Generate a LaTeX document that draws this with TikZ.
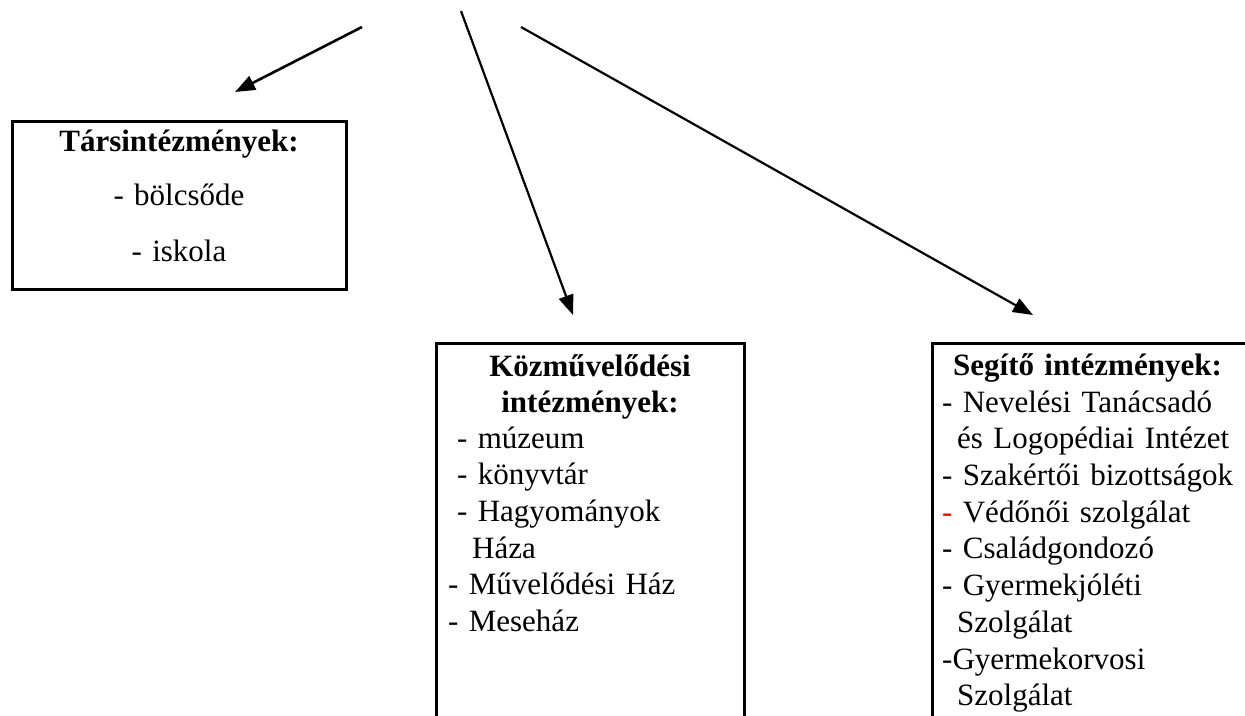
\documentclass[tikz,border=0pt]{standalone}
\usepackage{fontspec}
\setmainfont{Liberation Serif}
\usetikzlibrary{positioning,arrows.meta}
\tikzset{my frame/.style={draw,line width=3pt,anchor=north west,inner sep=0pt,outer sep=0pt},
my text/.style={inner sep=0pt,text width=#1,font=\fontsize{31}{36.7}\selectfont\strut},
my arrow/.style={-{Triangle[length=20pt,width=15pt]},line width=#1},
my arrow/.default=2.2pt}

\begin{document}
\begin{tikzpicture}[x=1pt,y=-1pt]
\useasboundingbox (0,0) rectangle (1245,715);
\clip (0,0) rectangle (1245,715);
\node[my frame,minimum width=334pt,minimum height=168pt] (tars) at (12,121) {};
\node[my text=334pt,align=center,below=5pt of tars.north] (tarslist) {\textbf{Társintézmények:}\\[16.6pt] - bölcsőde\\[20pt] - iskola};
\node[my frame,minimum width=308pt,minimum height=420pt] (kozm) at (436,343) {};
\node[my text=308pt,align=center,below=7.3pt of kozm.north] (kozmtitle) {\textbf{Közművelődési}\\ \textbf{intézmények:}};
\node[my text=290pt,align=left,below right=79.3pt and 12pt of kozm.north west] (kozmlist) {\hspace*{9pt}- múzeum\\ \hspace*{9pt}- könyvtár\\ \hspace*{9pt}- Hagyományok\\ \hspace*{24pt}Háza\\ - Művelődési Ház\\ - Meseház};
\node[my frame,minimum width=360pt,minimum height=420pt] (seg) at (932,343) {};
\node[my text=320pt,align=left,below right=6.3pt and 21pt of seg.north west] (segtitle) {\textbf{Segítő intézmények:}};
\node[my text=320pt,align=left,below right=43.3pt and 10pt of seg.north west] (seglist) {- Nevelési Tanácsadó\\ \hspace*{15pt}és Logopédiai Intézet\\ - Szakértői bizottságok\\ \textcolor{red}{-} Védőnői szolgálat\\ - Családgondozó\\ - Gyermekjóléti\\ \hspace*{15pt}Szolgálat\\ -Gyermekorvosi\\ \hspace*{15pt}Szolgálat};
\coordinate (src1) at (362,27);
\coordinate (src2) at (461,11);
\coordinate (src3) at (521,27);
\coordinate (tip1) at (235,92);
\coordinate (tip2) at (573,315);
\coordinate (tip3) at (1033,315);
\draw[my arrow=2.6pt] (src1) -- (tip1);
\draw[my arrow] (src2) -- (tip2);
\draw[my arrow] (src3) -- (tip3);
\end{tikzpicture}
\end{document}
